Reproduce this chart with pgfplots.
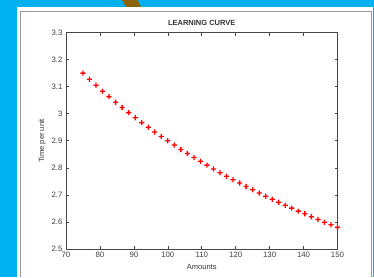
\documentclass[border=0pt]{standalone}
\usepackage{pgfplots}
\pgfplotsset{compat=1.18}
\usepackage{fontspec}
\setmainfont{Liberation Sans}
\definecolor{bgblue}{RGB}{0,176,240}
\definecolor{goldb}{RGB}{139,101,8}
\definecolor{axgray}{RGB}{70,70,70}
\definecolor{mred}{RGB}{255,0,0}
\pgfdeclareplotmark{fplus}{%
  \pgfpathrectangle{\pgfpoint{-2.6pt}{-0.65pt}}{\pgfpoint{5.2pt}{1.3pt}}%
  \pgfpathrectangle{\pgfpoint{-0.65pt}{-2.6pt}}{\pgfpoint{1.3pt}{5.2pt}}%
  \pgfsetfillcolor{mred}\pgfusepathqfill}
\begin{document}
\begin{tikzpicture}[x=1pt,y=1pt]
\useasboundingbox (0,0) rectangle (374,277);
\fill[bgblue] (0,0) rectangle (374,277);
\fill[goldb] (122,277) -- (137.5,277) -- (141,270) -- (126,270) -- cycle;
\fill[white] (17,0) rectangle (373,270);
\draw[line width=1.5pt, black!40] (20.5,0) -- (20.5,265.5) -- (371.5,265.5) -- (371.5,0);
\begin{axis}[
  at={(66pt,28pt)}, anchor=south west,
  scale only axis, width=271.5pt, height=216.5pt,
  xmin=70, xmax=150, ymin=2.5, ymax=3.3,
  xtick={70,80,...,150},
  ytick={2.5,2.6,2.7,2.8,2.9,3.0,3.1,3.2,3.3},
  tick align=inside, major tick length=3pt,
  axis line style={axgray, line width=0.8pt},
  every tick/.style={axgray, line width=0.6pt},
  tick label style={font=\fontsize{7.8}{8}\selectfont, text=black!75},
  /pgf/number format/assume math mode=true,
  yticklabel style={/pgf/number format/fixed, /pgf/number format/precision=1},
  title={\textbf{LEARNING CURVE}},
  every axis title shift=0pt,
  every axis title/.style={at={(axis description cs:0.5,1.046)}, anchor=center, font=\fontsize{7.5}{8}\selectfont, text=black!80},
  xlabel={Amounts},
  ylabel={Time per unit},
  every axis x label/.style={at={(axis description cs:0.5,-0.083)}, anchor=center, font=\fontsize{7.5}{8}\selectfont, text=black!80},
  every axis y label/.style={at={(axis description cs:-0.088,0.5)}, rotate=90, anchor=center, font=\fontsize{7.5}{8}\selectfont, text=black!80},
]
\addplot[only marks, color=mred, mark=fplus, mark options={fill=mred, draw=none}] coordinates {
(75.000,3.150) (76.923,3.127) (78.846,3.105) (80.769,3.083) (82.692,3.063)
(84.615,3.042) (86.538,3.023) (88.462,3.004) (90.385,2.985) (92.308,2.967)
(94.231,2.950) (96.154,2.932) (98.077,2.916) (100.000,2.900) (101.923,2.884)
(103.846,2.868) (105.769,2.853) (107.692,2.838) (109.615,2.824) (111.538,2.810)
(113.462,2.796) (115.385,2.782) (117.308,2.769) (119.231,2.756) (121.154,2.744)
(123.077,2.731) (125.000,2.719) (126.923,2.707) (128.846,2.695) (130.769,2.684)
(132.692,2.673) (134.615,2.662) (136.538,2.651) (138.462,2.640) (140.385,2.630)
(142.308,2.619) (144.231,2.609) (146.154,2.599) (148.077,2.590) (150.000,2.580)
};
\end{axis}
\end{tikzpicture}
\end{document}
